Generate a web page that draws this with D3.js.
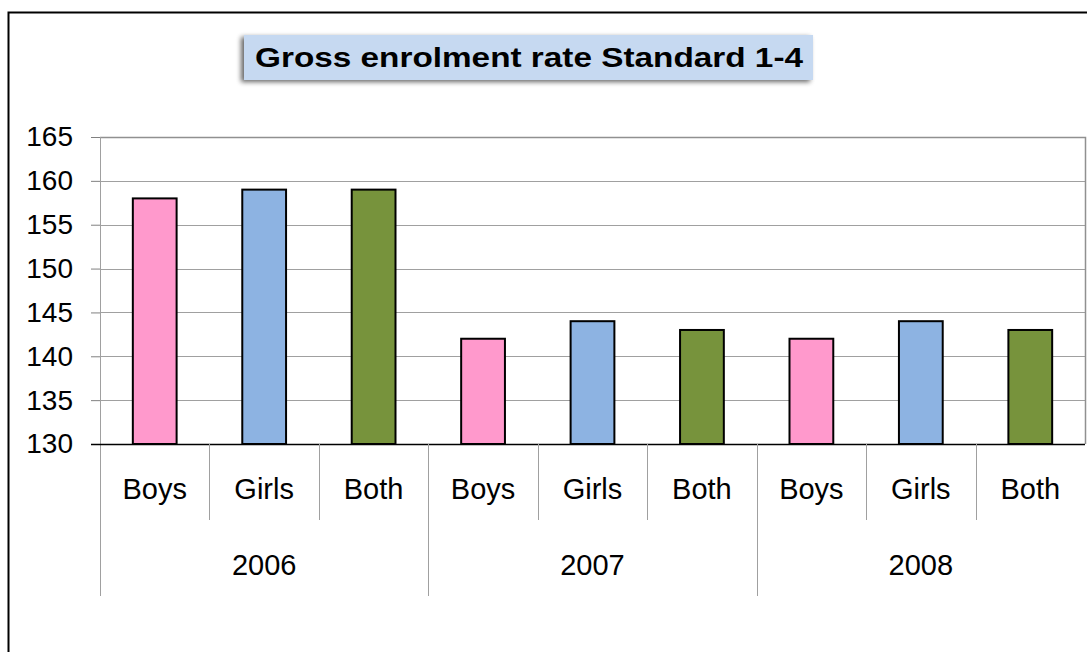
<!DOCTYPE html>
<html><head><meta charset="utf-8">
<script src="https://cdn.jsdelivr.net/npm/d3@7"></script>
<style>body{margin:0;background:#fff}svg{display:block;font-family:"Liberation Sans",Arial,sans-serif}</style>
</head><body>
<script>
const title = "Gross enrolment rate Standard 1-4";
const years = ["2006","2007","2008"];
const groups = ["Boys","Girls","Both"];
const values = [158,159,159,142,144,143,142,144,143];
const colors = ["#ff99cc","#8db3e2","#77933c"];
const yTicks = [130,135,140,145,150,155,160,165];

const W=1087,H=652;
const FONT="'Liberation Sans',Arial,sans-serif";
const svg=d3.select("body").append("svg").attr("width",W).attr("height",H);
const L=100,R=1085,T=137,B=444;

// outer border
svg.append("path").attr("d",`M8.5,${H} V12.5 H${W}`).attr("fill","none").attr("stroke","#000").attr("stroke-width",2);

const cats=[];years.forEach(y=>groups.forEach(g=>cats.push(y+"|"+g)));
const x=d3.scaleBand().domain(cats).range([L,R]).paddingInner(0).paddingOuter(0);
const y=d3.scaleLinear().domain([130,165]).range([B,T]);

// gridlines
svg.append("g").selectAll("line").data(yTicks.slice(1)).join("line")
 .attr("x1",L).attr("x2",R).attr("y1",d=>Math.round(y(d))+0.5).attr("y2",d=>Math.round(y(d))+0.5)
 .attr("stroke","#a0a0a0").attr("stroke-width",1);
// plot border top/right
svg.append("path").attr("d",`M${L},${T+0.5} H${R+0.5} V${B}`).attr("fill","none").attr("stroke","#909090").attr("stroke-width",1.5);

// y axis
const ya=svg.append("g").attr("transform",`translate(${L},0)`)
 .call(d3.axisLeft(y).tickValues(yTicks).tickSize(9).tickPadding(18));
ya.select(".domain").remove();
ya.selectAll(".tick line").attr("stroke","#808080");
ya.selectAll("text").attr("font-size",28).attr("fill","#000").attr("font-family",FONT);
svg.append("line").attr("x1",L+0.5).attr("x2",L+0.5).attr("y1",T).attr("y2",596).attr("stroke","#a0a0a0").attr("stroke-width",1);

// bars
svg.append("g").selectAll("rect").data(values).join("rect")
 .attr("x",(d,i)=>x(cats[i])+x.bandwidth()*0.3)
 .attr("width",x.bandwidth()*0.4)
 .attr("y",d=>y(d)).attr("height",d=>B-y(d))
 .attr("fill",(d,i)=>colors[i%3]).attr("stroke","#000").attr("stroke-width",2);

// x axis line
svg.append("line").attr("x1",L-9).attr("x2",R).attr("y1",B+0.5).attr("y2",B+0.5).attr("stroke","#000").attr("stroke-width",1.5);

// dividers
cats.forEach((c,i)=>{
  if(i===0) return;
  const xx=Math.round(x(c))+0.5;
  const isGroup=i%3===0;
  svg.append("line").attr("x1",xx).attr("x2",xx).attr("y1",B).attr("y2",isGroup?596:520).attr("stroke","#a0a0a0");
});
// category labels
svg.append("g").selectAll("text").data(cats).join("text")
 .attr("x",d=>x(d)+x.bandwidth()/2).attr("y",499).attr("text-anchor","middle")
 .attr("font-size",29).attr("font-family",FONT).text(d=>d.split("|")[1]);
// year labels
svg.append("g").selectAll("text").data(years).join("text")
 .attr("x",(d,i)=>x(cats[i*3])+x.bandwidth()*1.5).attr("y",575).attr("text-anchor","middle")
 .attr("font-size",29).attr("font-family",FONT).text(d=>d);

// title box
const defs=svg.append("defs");
const f=defs.append("filter").attr("id","sh").attr("x","-5%").attr("y","-30%").attr("width","110%").attr("height","160%");
f.append("feGaussianBlur").attr("in","SourceAlpha").attr("stdDeviation",2.5);
f.append("feOffset").attr("dx",-3).attr("dy",2).attr("result","b");
f.append("feComponentTransfer").append("feFuncA").attr("type","linear").attr("slope",0.6);
const m=f.append("feMerge");m.append("feMergeNode");m.append("feMergeNode").attr("in","SourceGraphic");
svg.append("rect").attr("x",244).attr("y",35).attr("width",569).attr("height",45).attr("fill","#c6d9f1").attr("filter","url(#sh)");
svg.append("text").attr("x",255).attr("y",67).attr("font-size",28).attr("font-weight","bold").attr("font-family",FONT)
 .attr("textLength",548).attr("lengthAdjust","spacingAndGlyphs").text(title);
</script>
</body></html>
